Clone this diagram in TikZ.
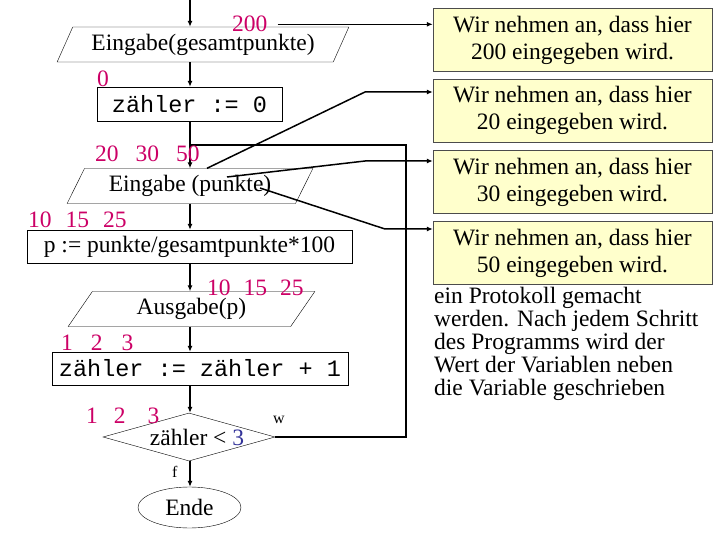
\documentclass[tikz,border=0pt]{standalone}
\usepackage{fontspec}
\setmainfont{Liberation Serif}
\setmonofont{Liberation Mono}
\usetikzlibrary{arrows.meta, positioning, shapes.geometric}
\definecolor{magentawert}{RGB}{204,0,102}
\definecolor{gelbnotiz}{RGB}{255,255,204}
\definecolor{blauzahl}{RGB}{51,51,153}

\begin{document}
\begin{tikzpicture}[x=1pt, y=-1pt, font=\fontsize{23.5}{27}\selectfont,
        io/.style={trapezium, trapezium left angle=58, trapezium right angle=122,
                   trapezium stretches=true, draw, inner sep=0pt, minimum height=35},
        proc/.style={rectangle, draw, inner sep=0pt},
        proctt/.style={proc, font=\fontsize{23.5}{27}\selectfont\ttfamily},
        wert/.style={anchor=base west, inner sep=0pt, text=magentawert},
        notiz/.style={rectangle, draw=black!70, fill=gelbnotiz, minimum width=279,
                      minimum height=63, inner sep=0pt, align=center},
        klein/.style={anchor=base west, inner sep=0pt, font=\fontsize{16}{18}\selectfont},
        fluss/.style={-{Latex[length=6pt,width=5pt]}, line width=1.5pt},
        verb/.style={-{Latex[length=6pt,width=5pt]}, line width=1.5pt}
    ]
        \useasboundingbox (0,0) rectangle (720,540);
        \coordinate (achse) at (190,0);
        \coordinate (start) at (190,0);

        % flowchart
        \node[io, minimum width=292] (in1) at (203,44.5) {Eingabe(gesamtpunkte)};
        \node[proctt, minimum width=185, minimum height=34] (init) at (189.5,104) {zähler := 0};
        \node[io, minimum width=246] (in2) at (190,186) {Eingabe (punkte)};
        \node[proc, minimum width=325, minimum height=33] (calc) at (189.5,246.5) {p := punkte/gesamtpunkte*100};
        \node[io, minimum width=247] (out) at (191.5,309) {Ausgabe(p)};
        \node[proctt, minimum width=296, minimum height=33] (inc) at (200,368.5) {zähler := zähler + 1};
        \node[diamond, draw, aspect=3.58, inner sep=0pt, minimum width=172, minimum height=48] (dec) at (189,437)
            {\makebox[90pt]{\hspace{16pt}zähler < \textcolor{blauzahl}{3}}};
        \node[ellipse, draw, inner sep=0pt, minimum width=103, minimum height=41] (ende) at (189.5,507.5) {Ende};

        \draw[fluss] (start) -- (in1.north -| start);
        \foreach \a/\b in {in1/init, init/in2, in2/calc, calc/out, out/inc, inc/dec, dec/ende}
            \draw[fluss] (\a.south -| achse) -- (\b.north -| achse);
        \coordinate (rueck) at (406,145);
        \draw[line width=1.5pt] (dec.east) -| (rueck) -- (rueck -| achse);
        \node[klein] (w) at (273,423) {w};
        \node[klein] (f) at (172,477) {f};

        % Werte
        \node[wert] (v1) at (232,32) {200};
        \node[wert] (v2) at (97,87) {0};
        \node[wert] (v3) at (95,162) {20\hspace{17pt}30\hspace{17pt}50};
        \node[wert] (v4) at (28,228) {10\hspace{14pt}15\hspace{14pt}25};
        \node[wert] (v5) at (207,295) {10\hspace{13pt}15\hspace{13pt}25};
        \node[wert] (v6) at (61,350) {1\hspace{18pt}2\hspace{19pt}3};
        \node[wert] (v7) at (86,423) {1\hspace{16pt}2\hspace{22pt}3};

        % Notizen
        \node[anchor=north west, align=left, inner sep=0pt, font=\fontsize{23.5}{23}\selectfont] (prot) at (434,287)
            {ein Protokoll gemacht\\werden. Nach jedem Schritt\\des Programms wird der\\Wert der Variablen neben\\die Variable geschrieben};
        \node[notiz] (note1) at (572.5,40) {Wir nehmen an, dass hier\\200 eingegeben wird.};
        \node[notiz] (note2) at (572.5,110.5) {Wir nehmen an, dass hier\\20 eingegeben wird.};
        \node[notiz] (note3) at (572.5,182) {Wir nehmen an, dass hier\\30 eingegeben wird.};
        \node[notiz] (note4) at (572.5,253) {Wir nehmen an, dass hier\\50 eingegeben wird.};

        \coordinate (k2) at (365,92);
        \coordinate (k3) at (365,161);
        \coordinate (k4) at (385,229);
        \draw[verb] ([xshift=10pt]v1.east) -- (v1.east -| note1.west);
        \draw[verb] ([xshift=17pt]in2.north) -- (k2) -- (k2 -| note2.west);
        \draw[verb] ([shift={(37,-9)}]in2.center) -- (k3) -- (k3 -| note3.west);
        \draw[verb] ([shift={(70,2)}]in2.center) -- (k4) -- (k4 -| note4.west);
    \end{tikzpicture}
\end{document}
